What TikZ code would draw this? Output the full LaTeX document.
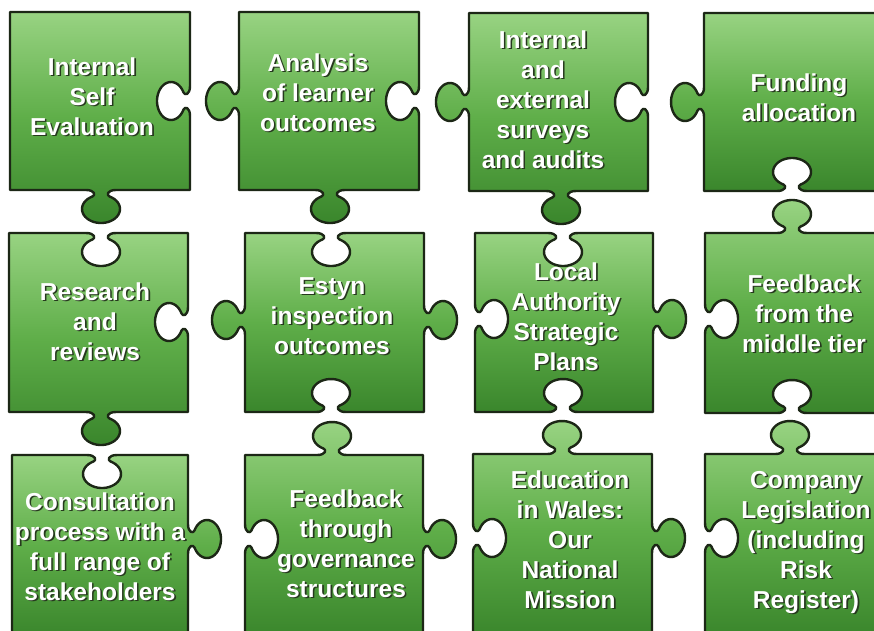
\documentclass[tikz,border=0pt]{standalone}
\usepackage{fontspec}
\setmainfont{Liberation Sans}
\usepackage{tikz}
\usepackage{xcolor}
\definecolor{rim}{HTML}{1C2716}
\definecolor{leafTop}{HTML}{98D382}
\definecolor{leafMid}{HTML}{5FAE49}
\definecolor{leafBottom}{HTML}{3A862C}
\definecolor{halo}{HTML}{26391E}
\tikzstyle{piece} = [draw=rim, line width=2.4pt, line join=round, top color=leafTop, bottom color=leafBottom, middle color=leafMid]
\tikzstyle{caption} = [text=white, inner sep=0pt, font=\fontsize{24.5}{30}\selectfont\bfseries]

% knob on an edge: midpoint (#1,#2), direction of travel (#3,#4), #5 = 1 for a tab, -1 for a hole
\newcommand{\knob}[5]{%
  -- ({#1-15*(#3)},{#2-15*(#4)})
  .. controls ({#1-6*(#3)},{#2-6*(#4)}) and ({#1-5.2*(#3)+5.3*(#5)*(#4)},{#2-5.2*(#4)-5.3*(#5)*(#3)})
  .. ({#1-8.7*(#3)+6.6*(#5)*(#4)},{#2-8.7*(#4)-6.6*(#5)*(#3)})
  -- plot[variable=\p, domain=242.8:-62.8, samples=36]
     ({#1+19*cos(\p)*(#3)+(19+14*sin(\p))*(#5)*(#4)},{#2+19*cos(\p)*(#4)-(19+14*sin(\p))*(#5)*(#3)})
  .. controls ({#1+5.2*(#3)+5.3*(#5)*(#4)},{#2+5.2*(#4)-5.3*(#5)*(#3)}) and ({#1+6*(#3)},{#2+6*(#4)})
  .. ({#1+15*(#3)},{#2+15*(#4)})}

\newcommand{\lbl}[1]{\begin{tabular}{@{}c@{}}#1\end{tabular}}
\newcommand{\embossed}[1]{\leavevmode\rlap{\hspace{1.6pt}\raisebox{-1.6pt}{\color{halo}\lbl{#1}}}\lbl{#1}}

\begin{document}
\begin{tikzpicture}[x=1pt,y=-1pt]
  \path[use as bounding box, fill=white] (0,0) rectangle (874,630);

  % top row
  \draw[piece] (10,12) -- (190,12) \knob{190}{101}{0}{1}{-1} -- (190,190) \knob{101}{190}{-1}{0}{1} -- (10,190) -- cycle;
  \draw[piece] (239,12) -- (419,12) \knob{419}{101}{0}{1}{-1} -- (419,190) \knob{330}{190}{-1}{0}{1} -- (239,190) \knob{239}{101}{0}{-1}{1} -- cycle;
  \draw[piece] (469,13) -- (648,13) \knob{648}{102}{0}{1}{-1} -- (648,191) \knob{561}{191}{-1}{0}{1} -- (469,191) \knob{469}{102}{0}{-1}{1} -- cycle;
  \draw[piece] (704,13) -- (886,13) -- (886,191) \knob{792}{191}{-1}{0}{-1} -- (704,191) \knob{704}{102}{0}{-1}{1} -- cycle;

  % middle row
  \draw[piece] (9,233) \knob{101}{233}{1}{0}{-1} -- (188,233) \knob{188}{322}{0}{1}{-1} -- (188,412) \knob{101}{412}{-1}{0}{1} -- (9,412) -- cycle;
  \draw[piece] (245,233) \knob{331}{233}{1}{0}{-1} -- (424,233) \knob{424}{320}{0}{1}{1} -- (424,412) \knob{331}{412}{-1}{0}{-1} -- (245,412) \knob{245}{320}{0}{-1}{1} -- cycle;
  \draw[piece] (475,233) \knob{563}{233}{1}{0}{-1} -- (653,233) \knob{653}{319}{0}{1}{1} -- (653,412) \knob{563}{412}{-1}{0}{-1} -- (475,412) \knob{475}{319}{0}{-1}{-1} -- cycle;
  \draw[piece] (705,233) \knob{792}{233}{1}{0}{1} -- (886,233) -- (886,413) \knob{792}{413}{-1}{0}{-1} -- (705,413) \knob{705}{319}{0}{-1}{-1} -- cycle;

  % bottom row
  \draw[piece] (12,455) \knob{102}{455}{1}{0}{-1} -- (188,455) \knob{188}{539}{0}{1}{1} -- (188,636) -- (12,636) -- cycle;
  \draw[piece] (245,455) \knob{332}{455}{1}{0}{1} -- (423,455) \knob{423}{539}{0}{1}{1} -- (423,636) -- (245,636) \knob{245}{539}{0}{-1}{-1} -- cycle;
  \draw[piece] (473,454) \knob{562}{454}{1}{0}{1} -- (652,454) \knob{652}{538}{0}{1}{1} -- (652,636) -- (473,636) \knob{473}{538}{0}{-1}{-1} -- cycle;
  \draw[piece] (705,454) \knob{790}{454}{1}{0}{1} -- (886,454) -- (886,636) -- (705,636) \knob{705}{538}{0}{-1}{-1} -- cycle;

  \node[caption] (Self_Eval) at (92,100) {\embossed{Internal\\Self\\Evaluation}};
  \node[caption] (Learner) at (318,96) {\embossed{Analysis\\of learner\\outcomes}};
  \node[caption] (Surveys) at (543,103) {\embossed{Internal\\and\\external\\surveys\\and audits}};
  \node[caption] (Funding) at (799,101) {\embossed{Funding\\allocation}};
  \node[caption] (Research) at (95,325) {\embossed{Research\\and\\reviews}};
  \node[caption] (Estyn) at (332,319) {\embossed{Estyn\\inspection\\outcomes}};
  \node[caption] (LA_Plans) at (566,320) {\embossed{Local\\Authority\\Strategic\\Plans}};
  \node[caption] (Middle_Tier) at (804,317) {\embossed{Feedback\\from the\\middle tier}};
  \node[caption] (Consultation) at (100,550) {\embossed{Consultation\\process with a\\full range of\\stakeholders}};
  \node[caption] (Governance) at (346,547) {\embossed{Feedback\\through\\governance\\structures}};
  \node[caption] (Mission) at (570,543) {\embossed{Education\\in Wales:\\Our\\National\\Mission}};
  \node[caption] (Legislation) at (806,543) {\embossed{Company\\Legislation\\(including\\Risk\\Register)}};
\end{tikzpicture}
\end{document}
